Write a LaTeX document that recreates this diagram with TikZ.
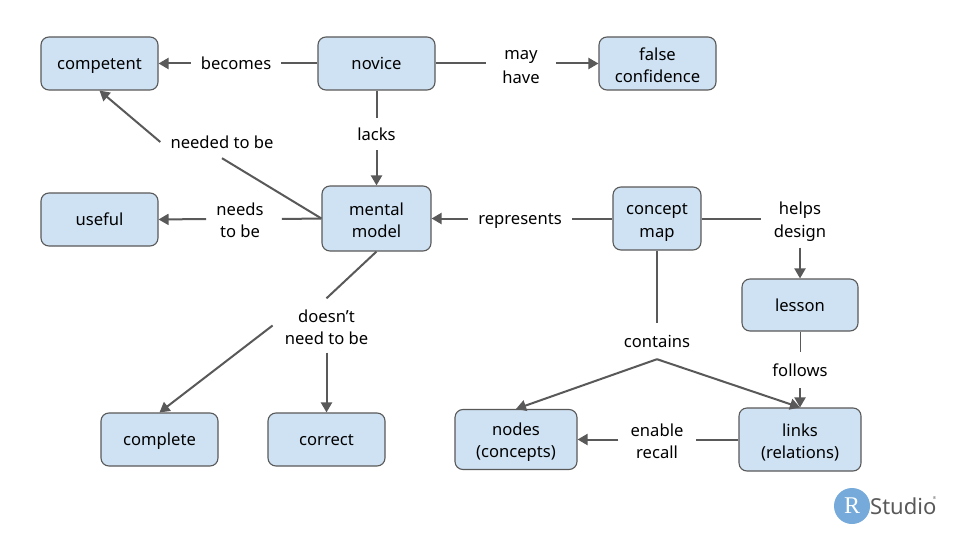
\documentclass[tikz,border=0pt]{standalone}
\usepackage{fontspec}
\setmainfont{Noto Sans}
\newfontfamily\logoserif{Liberation Serif}
\usetikzlibrary{arrows.meta}
\definecolor{boxfill}{HTML}{CFE2F3}
\definecolor{boxline}{HTML}{595959}
\definecolor{logoblue}{HTML}{75AADB}
\newcommand{\sone}{\rule[-4.55pt]{0pt}{22pt}}
\newcommand{\stwo}{\rule[-3.05pt]{0pt}{22pt}}
\tikzset{
  x=1pt,y=-1pt,
  box/.style={draw=boxline,fill=boxfill,rounded corners=8pt,line width=1.1pt,align=center,font=\fontsize{16.6}{22}\selectfont,inner sep=0pt,text=black},
  lab/.style={align=center,font=\fontsize{16.6}{22}\selectfont,inner xsep=10pt,inner ysep=5pt,text=black},
  conn/.style={draw=boxline,line width=2pt},
  arr/.style={conn,-{Triangle[length=10pt,width=11pt]}},
  wide/.style={minimum width=117pt,minimum height=53pt},
}
\begin{document}
\begin{tikzpicture}
\useasboundingbox (0,0) rectangle (960,540);
\fill[white] (0,0) rectangle (960,540);
\node[box,wide] (competent) at (99.5,63.5) {\sone competent};
\node[box,wide] (novice) at (376.5,63.5) {\sone novice};
\node[box,wide] (false) at (657.5,63.5) {\stwo false\\\stwo confidence};
\node[box,wide] (useful) at (99.5,219.5) {\sone useful};
\node[box,minimum width=109pt,minimum height=65pt] (mental) at (376.5,218.5) {\stwo mental\\\stwo model};
\node[box,minimum width=88pt,minimum height=63pt] (concept) at (657,218.5) {\stwo concept\\\stwo map};
\node[box,minimum width=116pt,minimum height=52pt] (lesson) at (800,305) {\sone lesson};
\node[box,wide] (complete) at (159.5,439.5) {\sone complete};
\node[box,wide] (correct) at (326.5,439.5) {\sone correct};
\node[box,minimum width=122pt,minimum height=60pt] (nodes) at (516,439.5) {\stwo nodes\\\stwo (concepts)};
\node[box,minimum width=122pt,minimum height=63pt] (links) at (800,439.5) {\stwo links\\\stwo (relations)};

\node[lab] (becomes) at (236,63.5) {\sone becomes};
\node[lab,inner xsep=16pt] (mayhave) at (521,63.5) {\stwo may\\\stwo have};
\node[lab] (lacks) at (376.5,134) {\sone lacks};
\node[lab] (needed) at (222,142) {\sone needed to be};
\node[lab] (needs) at (240,219) {\stwo needs\\\stwo to be};
\node[lab] (represents) at (520,218.5) {\sone represents};
\node[lab,inner xsep=13pt,inner ysep=5.5pt] (helps) at (800,218.5) {\stwo helps\\\stwo design};
\node[lab,inner xsep=12pt] (doesnt) at (326.5,325.5) {\stwo doesn’t\\\stwo need to be};
\node[lab,inner ysep=7pt,inner xsep=0pt] (contains) at (657,341) {\sone contains};
\node[lab,inner ysep=7pt] (follows) at (800,370) {\sone follows};
\node[lab,inner xsep=12pt] (enable) at (657,439.5) {\stwo enable\\\stwo recall};

\draw[conn] (novice.west) -- (becomes.east);
\draw[arr] (becomes.west) -- (competent.east);
\draw[conn] (novice.east) -- (mayhave.west);
\draw[arr] (mayhave.east) -- (false.west);
\draw[conn] (novice.south) -- (lacks.north);
\draw[arr] (lacks.south) -- (mental.north);
\draw[conn] (mental.west) -- (needed.south);
\draw[arr] (needed.west) -- (competent.south);
\draw[conn] (mental.west) -- ([xshift=8pt]needs.east);
\draw[arr] (needs.west) -- (useful.east);
\draw[conn] (concept.west) -- (represents.east);
\draw[arr] (represents.west) -- (mental.east);
\draw[conn] (concept.east) -- (helps.west);
\draw[arr] (helps.south) -- (lesson.north);
\draw[conn] (mental.south) -- (doesnt.north);
\draw[arr] (doesnt.west) -- (complete.north);
\draw[arr] (doesnt.south) -- (correct.north);
\draw[conn] (concept.south) -- (contains.north);
\draw[arr] (contains.south) -- (nodes.north);
\draw[arr] (contains.south) -- (links.north);
\draw[draw=boxline,line width=0.8pt] (lesson.south) -- (follows.north);
\draw[arr] (follows.south) -- (links.north);
\draw[conn] (links.west) -- (enable.east);
\draw[arr] (enable.west) -- (nodes.east);

\node[circle,fill=logoblue,minimum size=36pt,inner sep=0pt,text=white,font=\fontsize{24}{24}\logoserif] (logoR) at (852,506) {R};
\node[anchor=west,inner sep=0pt,text=boxline,font=\fontsize{22}{22}\selectfont] (logoS) at (870,506) {Studio};
\node[inner sep=0pt,text=boxline,font=\fontsize{4}{4}\selectfont] (logoT) at (934.5,498.5) {®};
\end{tikzpicture}
\end{document}
